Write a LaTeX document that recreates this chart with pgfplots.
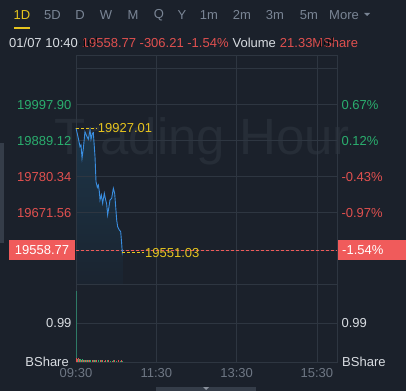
\documentclass[border=0pt]{standalone}
\usepackage{fontspec}
\setmainfont{Liberation Sans}
\usepackage{pgfplots}
\pgfplotsset{compat=1.18}
\usepackage{pgfplotstable}
\definecolor{bg}{HTML}{1B212B}
\definecolor{gridc}{HTML}{2E3641}
\definecolor{upg}{HTML}{2AAE6E}
\definecolor{dnr}{HTML}{E0504F}
\definecolor{boxr}{HTML}{F05B5B}
\definecolor{linec}{HTML}{3A8EE0}
\definecolor{fillc}{HTML}{1C3548}
\definecolor{fillb}{HTML}{1B2430}
\definecolor{yel}{HTML}{E6C41E}
\definecolor{tabc}{HTML}{7A8595}
\definecolor{wtxt}{HTML}{D9DDE2}
\definecolor{xtl}{HTML}{6E7784}
\definecolor{wm}{HTML}{262D37}
\definecolor{stripc}{HTML}{353D49}
\definecolor{spike}{HTML}{2E7A66}

\pgfplotstableread{
m v
0 19927.01
3.5 19896
6 19871
7.5 19876
9 19836
11 19866
13.4 19916
16 19903
18.4 19893
21 19921
22.4 19893
24.4 19911
25.9 19913
28.4 19841
29.9 19765
31.9 19748
33.4 19755
34.9 19735
35.9 19710
37.9 19725
39.8 19700
42.3 19730
44.3 19710
45.8 19698
47.3 19665
49.3 19690
50.8 19710
53.3 19715
55.8 19745
57.8 19730
59.3 19690
60.8 19649
62.3 19629
64.8 19619
66.8 19614
68.2 19579
69.2 19551.03
70 19558.77
}\price

\pgfplotstableread{
m v
1 0.10
2 0.08
3 0.09
5 0.07
8 0.06
11 0.05
14 0.06
17 0.05
20 0.04
24 0.05
27 0.06
31 0.04
36 0.05
40 0.04
44 0.05
49 0.04
54 0.03
58 0.04
63 0.04
68 0.05
}\volred

\pgfplotstableread{
m v
4 0.07
6 0.08
7 0.06
9 0.07
12 0.05
15 0.06
19 0.05
22 0.06
26 0.04
29 0.05
33 0.04
38 0.04
42 0.03
47 0.04
51 0.03
56 0.04
61 0.03
66 0.03
70 0.03
}\volgreen

\newcommand{\fs}{\fontsize{13}{15}\selectfont}
\pgfplotsset{base/.style={
  scale only axis, width=261pt, xmin=0, xmax=390,
  anchor=south west,
  axis line style={gridc, line width=0.8pt},
  grid=major, grid style={gridc, line width=0.8pt},
  major tick length=0pt,
  xtick={0,120,240,360},
  ticklabel style={font=\fs},
}}

\begin{document}
\begin{tikzpicture}[x=1pt,y=1pt]
\fill[bg] (0,0) rectangle (406,391);
% watermark
\node[text=wm, font=\fontsize{51}{51}\selectfont, inner sep=0] at (202,250) {Trading Hour};
% left strip
\fill[stripc] (0,148) rectangle (4,248);
% tabs
\begin{scope}[font=\fs, inner sep=0]
\node[text=yel] at (22,376) {1D};
\fill[yel] (14,362) rectangle (30,364);
\node[text=tabc] at (52.5,376) {5D};
\node[text=tabc] at (80,376) {D};
\node[text=tabc] at (106,376) {W};
\node[text=tabc] at (133,376) {M};
\node[text=tabc] at (159,376) {Q};
\node[text=tabc] at (182,376) {Y};
\node[text=tabc] at (209,376) {1m};
\node[text=tabc] at (242,376) {2m};
\node[text=tabc] at (275,376) {3m};
\node[text=tabc] at (309,376) {5m};
\node[text=tabc, anchor=west] at (329,376) {More};
\fill[tabc] (364,378) -- (370,378) -- (367,375) -- cycle;
\node[anchor=base west, text=wtxt] (h1) at (9,343) {01/07 10:40};
\node[anchor=base west, text=dnr] (h2) at ([xshift=3.6pt]h1.base east) {19558.77 -306.21 -1.54\%};
\node[anchor=base west, text=wtxt] (h3) at ([xshift=3.6pt]h2.base east) {Volume};
\node[anchor=base west, text=dnr] (h4) at ([xshift=3.6pt]h3.base east) {21.33MShare};
\end{scope}

% main price axis
\begin{axis}[base, at={(76pt,107pt)}, height=229pt, axis on top,
  ymin=19456.1, ymax=20147.7,
  ytick={19558.77,19671.56,19780.34,19889.12,19997.90,20106.68},
  yticklabels={,\textcolor{dnr}{19671.56},\textcolor{dnr}{19780.34},\textcolor{upg}{19889.12},\textcolor{upg}{19997.90},},
  yticklabel style={xshift=-1pt},
  xticklabels={}]
\addplot[top color=fillc, bottom color=fillb, draw=none] table {\price} -- (axis cs:70,19456.1) -- (axis cs:0,19456.1) -- cycle;
\end{axis}
\begin{axis}[base, at={(76pt,107pt)}, height=229pt,
  ymin=19456.1, ymax=20147.7, grid=none, axis line style={draw=none},
  ytick={19558.77,19671.56,19780.34,19889.12,19997.90,20106.68},
  yticklabel pos=right,
  yticklabel style={xshift=1pt},
  yticklabels={,\textcolor{dnr}{-0.97\%},\textcolor{dnr}{-0.43\%},\textcolor{upg}{0.12\%},\textcolor{upg}{0.67\%},},
  xtick=\empty, clip=false]
\addplot[boxr, dash pattern=on 3pt off 2pt, line width=0.8pt] coordinates {(0,19558.77) (390,19558.77)};
\addplot[linec, line width=0.9pt] table {\price};
\draw[yel, dash pattern=on 3pt off 2pt, line width=0.8pt] (axis cs:0,19927.01) -- ++(21pt,0pt) node[anchor=west, inner sep=0.5pt, text=yel, font=\fs] {19927.01};
\draw[yel, dash pattern=on 3pt off 2pt, line width=0.8pt] (axis cs:69.2,19551.03) -- ++(22pt,0pt) node[anchor=west, inner sep=0.5pt, text=yel, font=\fs] {19551.03};
\end{axis}

% value boxes
\fill[boxr] (9,131) rectangle (75,151);
\node[text=white, font=\fs, inner sep=0] at (42,141) {19558.77};
\fill[boxr] (338,131) rectangle (406,151);
\node[text=white, font=\fs, inner sep=0, anchor=west] at (342,141) {-1.54\%};

% volume axis
\begin{axis}[base, at={(76pt,29pt)}, height=78pt,
  ymin=0, ymax=1.98, ytick={0.99}, yticklabels={\textcolor{wtxt}{0.99}},
  yticklabel style={xshift=-1pt},
  xticklabels={09:30,11:30,13:30,15:30},
  xticklabel style={text=xtl, yshift=-3pt}]
\addplot[ycomb, spike, line width=1pt] coordinates {(0.4,1.80)};
\addplot[ycomb, dnr, line width=0.8pt] table {\volred};
\addplot[ycomb, upg, line width=0.8pt] table {\volgreen};
\end{axis}
\begin{axis}[base, at={(76pt,29pt)}, height=78pt, grid=none, axis line style={draw=none},
  ymin=0, ymax=1.98, ytick={0.99}, yticklabel pos=right, yticklabels={\textcolor{wtxt}{0.99}},
  yticklabel style={xshift=1pt},
  xtick=\empty]
\end{axis}
\node[text=wtxt, anchor=east, inner sep=0, font=\fs] at (69,29) {BShare};
\node[text=wtxt, anchor=west, inner sep=0, font=\fs] at (342,29) {BShare};
% bottom tab
\fill[stripc] (156,0) rectangle (256,4);
\fill[xtl!80!white] (203,4) -- (209,4) -- (206,1) -- cycle;
\end{tikzpicture}
\end{document}
